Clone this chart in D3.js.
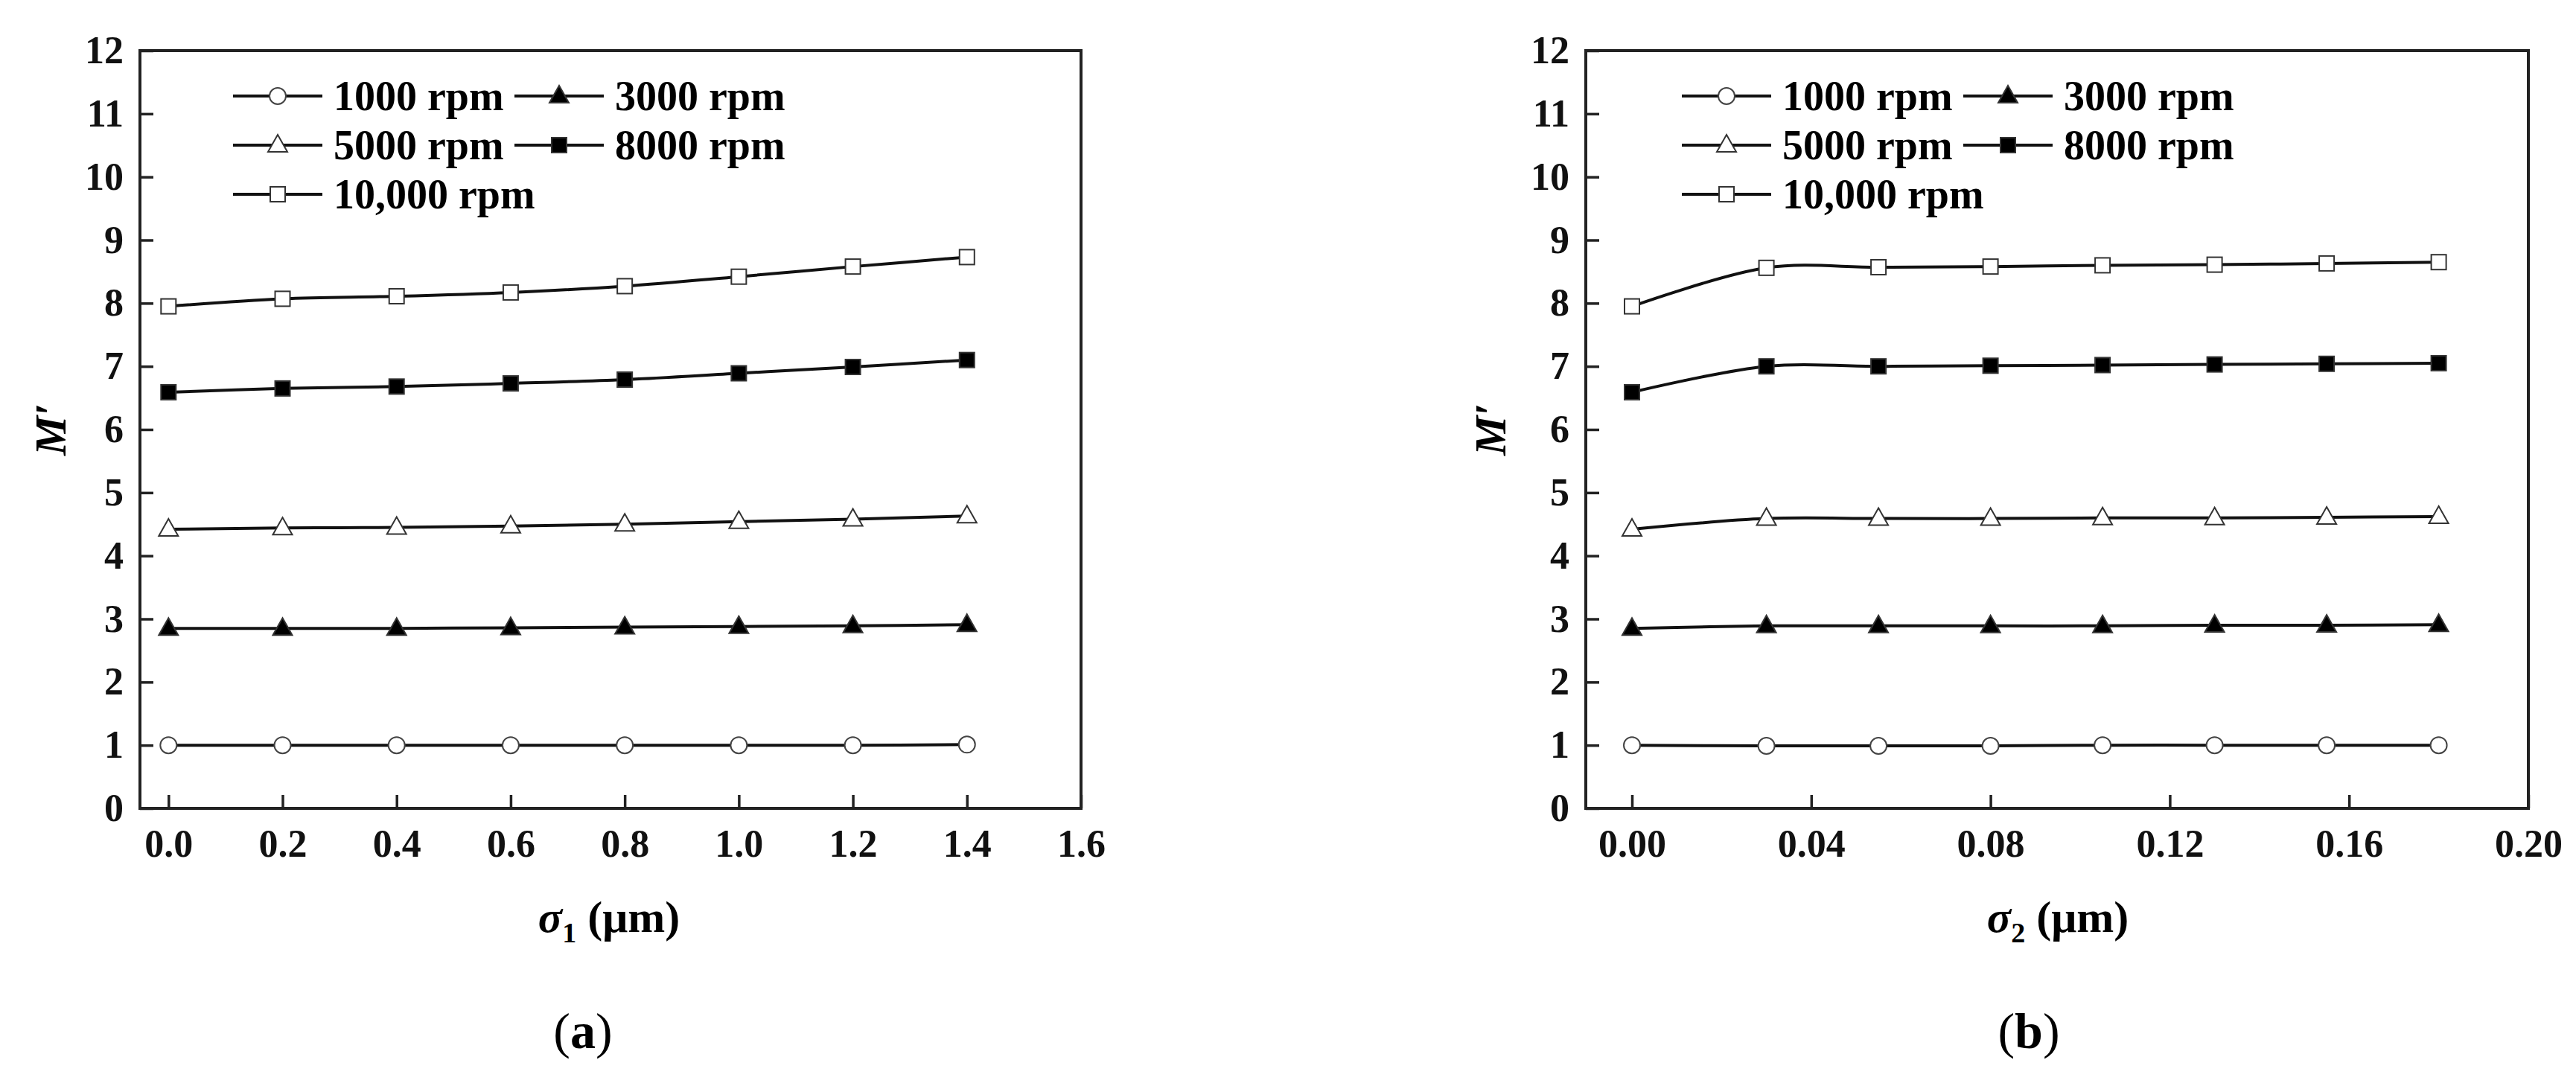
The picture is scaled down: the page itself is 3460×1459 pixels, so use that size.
<!DOCTYPE html>
<html><head><meta charset="utf-8">
<script src="https://cdn.jsdelivr.net/npm/d3@7"></script>
<style>body{margin:0;background:#fff}text{font-family:"Liberation Serif","Times New Roman",serif;font-weight:bold}</style>
</head><body>
<svg id="chart" width="3460" height="1459"></svg>
<script>
// series labels and marker styles
let speeds = ['1000 rpm','3000 rpm','5000 rpm','8000 rpm','10,000 rpm']
let markers = ['circle','triangleFill','triangle','squareFill','square']

let xA = [0,0.2,0.4,0.6,0.8,1.0,1.2,1.4]
let valuesA = [
  [1.0,1.0,1.0,1.0,1.0,1.0,1.0,1.01],
  [2.85,2.85,2.85,2.86,2.87,2.88,2.89,2.91],
  [4.42,4.44,4.45,4.47,4.50,4.54,4.58,4.63],
  [6.59,6.65,6.68,6.73,6.79,6.89,6.99,7.10],
  [7.95,8.07,8.11,8.17,8.27,8.42,8.58,8.73]
]
let xB = [0,0.03,0.055,0.08,0.105,0.13,0.155,0.18]
let valuesB = [
  [1.0,0.99,0.99,0.99,1.0,1.0,1.0,1.0],
  [2.85,2.89,2.89,2.89,2.89,2.90,2.90,2.91],
  [4.42,4.59,4.59,4.59,4.60,4.60,4.61,4.62],
  [6.59,7.0,7.0,7.01,7.02,7.03,7.04,7.05],
  [7.95,8.56,8.57,8.58,8.60,8.61,8.63,8.65]
]
let ticksA = [0,0.2,0.4,0.6,0.8,1.0,1.2,1.4,1.6]
let ticksB = [0,0.04,0.08,0.12,0.16,0.20]
let ticksY = d3.range(0,13)

let svg = d3.select('#chart')

function marker(g, type, x, y){
  let fill = type.endsWith('Fill') ? '#000' : '#fff'
  if(type=='circle') g.append('circle').attr('cx',x).attr('cy',y).attr('r',11).attr('fill',fill).attr('stroke','#444').attr('stroke-width',2)
  else if(type.startsWith('square')) g.append('rect').attr('x',x-10).attr('y',y-10).attr('width',20).attr('height',20).attr('fill',fill).attr('stroke','#333').attr('stroke-width',2)
  else g.append('path').attr('d',`M${x},${y-14}L${x+13},${y+9}L${x-13},${y+9}Z`).attr('fill',fill).attr('stroke','#333').attr('stroke-width',2)
}

function panel(o){
  let g = svg.append('g')
  let x = d3.scaleLinear().domain(o.xdom).range([o.left,o.right])
  let y = d3.scaleLinear().domain([0,12]).range([1086,68])

  g.append('g').attr('transform','translate(0,1086)')
    .call(d3.axisBottom(x).tickValues(o.ticks).tickFormat(d3.format(o.fmt)).tickSizeInner(-18).tickSizeOuter(0).tickPadding(28))
  g.append('g').attr('transform',`translate(${o.left},0)`)
    .call(d3.axisLeft(y).tickValues(ticksY).tickSizeInner(-18).tickSizeOuter(0).tickPadding(22))
  g.selectAll('.domain').remove()
  g.selectAll('.tick line').attr('stroke','#222').attr('stroke-width',3.5)
  g.selectAll('.tick text').attr('font-size',52).attr('fill','#111')
  g.append('rect').attr('x',o.left).attr('y',68).attr('width',o.right-o.left).attr('height',1018)
    .attr('fill','none').attr('stroke','#222').attr('stroke-width',4)

  let line = d3.line().x(d=>x(d[0])).y(d=>y(d[1])).curve(d3.curveCatmullRom.alpha(0.5))
  o.vals.forEach((s,i)=>{
    let pts = o.xs.map((v,j)=>[v,s[j]])
    g.append('path').attr('d',line(pts)).attr('fill','none').attr('stroke','#111').attr('stroke-width',4)
    pts.forEach(p=>marker(g,markers[i],x(p[0]),y(p[1])))
  })

  // legend
  let rows = [[0,0],[0,1],[1,0],[1,1],[2,0]]
  speeds.forEach((s,i)=>{
    let [r,c] = rows[i]
    let lx = o.leg[c], ly = 129 + r*66
    g.append('line').attr('x1',lx).attr('x2',lx+120).attr('y1',ly).attr('y2',ly).attr('stroke','#111').attr('stroke-width',4)
    marker(g,markers[i],lx+60,ly)
    g.append('text').attr('x',lx+135).attr('y',ly+19).attr('font-size',56).text(s)
  })

  g.append('text').attr('transform',`translate(${o.ytx},577) rotate(-90)`).attr('text-anchor','middle')
    .attr('font-size',60).attr('font-style','italic').text('M′')
  let t = g.append('text').attr('x',o.cx).attr('y',1252).attr('text-anchor','middle').attr('font-size',60)
  t.append('tspan').attr('font-style','italic').text('σ')
  t.append('tspan').attr('font-size',38).attr('dy',14).text(o.sub)
  t.append('tspan').attr('dy',-14).text(' (μm)')
  let c = svg.append('text').attr('x',o.lx).attr('y',1408).attr('text-anchor','middle').attr('font-size',68).style('font-weight','normal')
  c.append('tspan').text('(')
  c.append('tspan').attr('font-weight','bold').text(o.label)
  c.append('tspan').text(')')
}

panel({xdom:[-0.05,1.6], left:188, right:1452, ticks:ticksA, fmt:'.1f', xs:xA, vals:valuesA,
  leg:[313,691], ytx:88, cx:818, sub:'1', lx:783, label:'a'})
panel({xdom:[-0.0103,0.2], left:2130, right:3396, ticks:ticksB, fmt:'.2f', xs:xB, vals:valuesB,
  leg:[2259,2637], ytx:2022, cx:2764, sub:'2', lx:2725, label:'b'})
</script>
</body></html>
